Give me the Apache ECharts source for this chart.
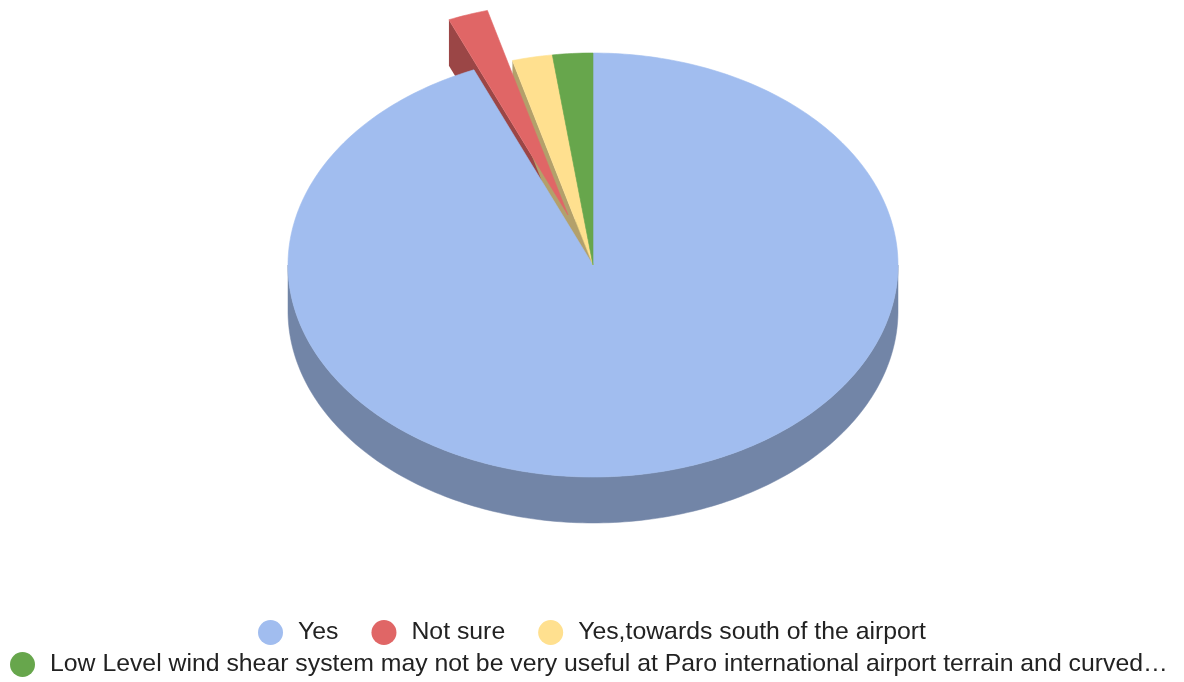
<!DOCTYPE html>
<html>
<head>
<meta charset="utf-8">
<script src="https://cdn.jsdelivr.net/npm/echarts@6/dist/echarts.min.js"></script>
<style>
html,body{margin:0;padding:0;background:#fff;}
#chart{width:1184px;height:682px;}
</style>
</head>
<body>
<div id="chart"></div>
<script>
// ---- data ----
const categories = [
  'Yes',
  'Not sure',
  'Yes,towards south of the airport',
  'Low Level wind shear system may not be very useful at Paro international airport terrain and curved…'
];
const values = [44, 1, 1, 1];

// ---- style ----
const topColors = ['#a1bdef', '#e06666', '#ffe08f', '#67a64c'];
const sideColors = ['#7285a7', '#9b4646', '#b3a06b', '#4a7637'];
const explodeFrac = [0, 0.25, 0, 0];
const geo = { cx: 593, cy: 265, rx: 305, ry: 212, depth: 46 };
const fontFamily = '"Liberation Sans", Arial, sans-serif';

const total = values.reduce((a, b) => a + b, 0);
function sliceAngles(idx) {
  let acc = 0;
  for (let i = 0; i < idx; i++) acc += values[i];
  return [acc / total * 360, (acc + values[idx]) / total * 360];
}
function rad(d) { return d * Math.PI / 180; }
function pt(theta, off, dz) {
  return [geo.cx + geo.rx * Math.sin(rad(theta)) + off[0],
          geo.cy - geo.ry * Math.cos(rad(theta)) + off[1] + (dz || 0)];
}
function offsetFor(idx) {
  const [a, b] = sliceAngles(idx);
  const m = (a + b) / 2;
  const f = explodeFrac[idx];
  return [geo.rx * f * Math.sin(rad(m)), -geo.ry * f * Math.cos(rad(m))];
}
function arc(a, b, off, dz) {
  const n = Math.max(4, Math.ceil(Math.abs(b - a)));
  const pts = [];
  for (let k = 0; k <= n; k++) pts.push(pt(a + (b - a) * k / n, off, dz));
  return pts;
}

function renderSides(params, api) {
  const idx = params.dataIndex;
  const [a, b] = sliceAngles(idx);
  const off = offsetFor(idx);
  const c = [geo.cx + off[0], geo.cy + off[1]];
  const d = geo.depth;
  const children = [];
  const fill = sideColors[idx];
  const lo = Math.max(a, 90), hi = Math.min(b, 270);
  if (hi > lo) {
    const top = arc(lo, hi, off, 0);
    const bot = arc(hi, lo, off, d);
    children.push({ type: 'polygon', z2: 1000, shape: { points: top.concat(bot) },
      style: { fill: fill, stroke: fill, lineWidth: 0.5 } });
  }
  if (Math.sin(rad(a)) < -1e-6) {
    const e = pt(a, off, 0);
    const poly = [c, e, [e[0], e[1] + d], [c[0], c[1] + d]];
    children.push({ type: 'polygon', z2: Math.round((c[1] + e[1]) / 2), shape: { points: poly },
      style: { fill: fill } });
  }
  if (Math.sin(rad(b)) > 1e-6 && b < 180) {
    const e = pt(b, off, 0);
    const poly = [c, e, [e[0], e[1] + d], [c[0], c[1] + d]];
    children.push({ type: 'polygon', z2: Math.round((c[1] + e[1]) / 2), shape: { points: poly },
      style: { fill: fill } });
  }
  return { type: 'group', children: children };
}

function renderTops(params, api) {
  const idx = params.dataIndex;
  const [a, b] = sliceAngles(idx);
  const off = offsetFor(idx);
  const c = [geo.cx + off[0], geo.cy + off[1]];
  const pts = [c].concat(arc(a, b, off, 0));
  return { type: 'polygon', shape: { points: pts },
    style: { fill: topColors[idx], stroke: topColors[idx], lineWidth: 0.6 } };
}

const seriesData = categories.map((n, i) => ({ name: n, value: values[i] }));

const chart = echarts.init(document.getElementById('chart'), null, { renderer: 'canvas' });
const legendText = { fontSize: 24.8, color: '#222222', fontFamily: fontFamily, padding: [0, 0, 0, 10] };
chart.setOption({
  animation: false,
  color: topColors,
  legend: [
    {
      data: categories.slice(0, 3),
      left: 'center', top: 615,
      icon: 'circle', itemWidth: 25, itemHeight: 25, itemGap: 33,
      itemStyle: { opacity: 1 },
      textStyle: legendText
    },
    {
      data: categories.slice(3),
      left: 5, top: 647,
      icon: 'circle', itemWidth: 25, itemHeight: 25, itemGap: 33,
      itemStyle: { opacity: 1 },
      textStyle: legendText
    }
  ],
  series: [
    {
      type: 'pie', name: 'legendPie', radius: [0, 0], center: [geo.cx, geo.cy],
      silent: true, label: { show: false }, labelLine: { show: false },
      itemStyle: { borderWidth: 0 },
      data: seriesData
    },
    {
      type: 'custom', name: 'sides', coordinateSystem: 'none', z: 2, silent: true,
      renderItem: renderSides, data: seriesData
    },
    {
      type: 'custom', name: 'tops', coordinateSystem: 'none', z: 3, silent: true,
      renderItem: renderTops, data: seriesData
    }
  ]
});
</script>
</body>
</html>
